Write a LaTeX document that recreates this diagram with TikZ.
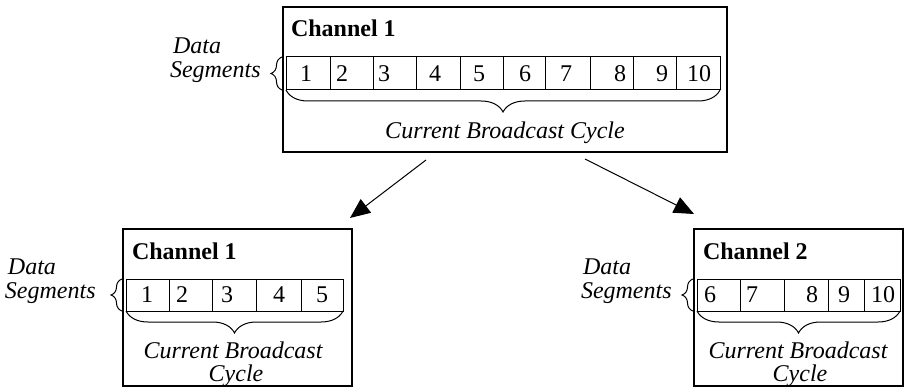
\documentclass[tikz,border=0pt]{standalone}
\usepackage{fontspec}
\setmainfont{Liberation Serif}
\usetikzlibrary{arrows.meta,decorations.pathreplacing}
\begin{document}
\begin{tikzpicture}[x=1pt,y=-1pt,
  every node/.style={inner sep=0pt, outer sep=0pt, font=\fontsize{24}{24}\selectfont},
  frame/.style={draw, line width=1.1pt},
  cell/.style={draw, line width=1pt},
  lab/.style={font=\fontsize{24}{24}\selectfont\itshape, anchor=base west},
  cyc/.style={font=\fontsize{24}{24}\selectfont\itshape, anchor=base},
  ttl/.style={font=\fontsize{24}{24}\selectfont\bfseries, anchor=base west},
  arr/.style={line width=1pt, -{Triangle[length=20pt,width=17pt]}},
  brc/.style={decorate, line width=1pt, decoration={brace, amplitude=#1}}]
\useasboundingbox (0,0) rectangle (904,387);

% frames
\node[frame, minimum width=444pt, minimum height=145pt] (top) at (505,79.5) {};
\node[frame, minimum width=229pt, minimum height=157pt] (bl) at (237.5,307.5) {};
\node[frame, minimum width=209pt, minimum height=157pt] (br) at (798.5,307.5) {};

% titles
\node[ttl] (ttop) at (291,37) {Channel 1};
\node[ttl] (tbl) at (132,259) {Channel 1};
\node[ttl] (tbr) at (703,259) {Channel 2};

% top cells
\foreach \a/\b/\t/\tx [count=\i] in {286/330/1/306,330/373/2/342,373/416/3/384,416/460/4/435,460/503/5/479,503/545/6/525,545/590/7/566,590/633/8/620,633/676/9/662,676/720/10/699}{
  \node[cell, minimum width={\b-\a}, minimum height=33pt] (t\i) at ({(\a+\b)/2},73.5) {};
  \node (tn\i) at (\tx,73.5) {\t};
}
% bottom-left cells
\foreach \a/\b/\t/\tx [count=\i] in {126/169/1/147,169/212/2/182,212/256/3/227,256/301/4/279,301/343/5/322}{
  \node[cell, minimum width={\b-\a}, minimum height=32pt] (l\i) at ({(\a+\b)/2},295) {};
  \node (ln\i) at (\tx,295) {\t};
}
% bottom-right cells
\foreach \a/\b/\t/\tx [count=\i] in {697/740/6/710,740/784/7/752,784/828/8/812,828/864/9/844,864/900/10/883}{
  \node[cell, minimum width={\b-\a}, minimum height=32pt] (r\i) at ({(\a+\b)/2},295) {};
  \node (rn\i) at (\tx,295) {\t};
}

% data segments labels
\node[lab] (dt) at (173,54) {Data};
\node[lab] (st) at (170,78) {Segments};
\node[lab] (dl) at (8,274) {Data};
\node[lab] (sl) at (5,298) {Segments};
\node[lab] (dr) at (583,274) {Data};
\node[lab] (sr) at (581,298) {Segments};

% left braces
\coordinate (lbt1) at (282,90); \coordinate (lbt2) at (282,57);
\draw[brc=11pt] (lbt1) -- (lbt2);
\coordinate (lbl1) at (122,311); \coordinate (lbl2) at (122,279);
\draw[brc=11pt] (lbl1) -- (lbl2);
\coordinate (lbr1) at (693,311); \coordinate (lbr2) at (693,279);
\draw[brc=11pt] (lbr1) -- (lbr2);

% bottom braces
\draw[brc=22pt, decoration={mirror}] (t1.south west) -- (t10.south east);
\draw[brc=22pt, decoration={mirror}] (l1.south west) -- (l5.south east);
\draw[brc=22pt, decoration={mirror}] (r1.south west) -- (r5.south east);

% cycle labels
\node[cyc] (ct) at (505,139) {Current Broadcast Cycle};
\node[cyc] (cl1) at (233,358) {Current Broadcast};
\node[cyc] (cl2) at (236,381) {Cycle};
\node[cyc] (cr1) at (798,358) {Current Broadcast};
\node[cyc] (cr2) at (800,381) {Cycle};

% arrows
\coordinate (a1s) at (426,160); \coordinate (a1e) at (350,218);
\coordinate (a2s) at (585,159); \coordinate (a2e) at (694,214);
\draw[arr] (a1s) -- (a1e);
\draw[arr] (a2s) -- (a2e);
\end{tikzpicture}
\end{document}
